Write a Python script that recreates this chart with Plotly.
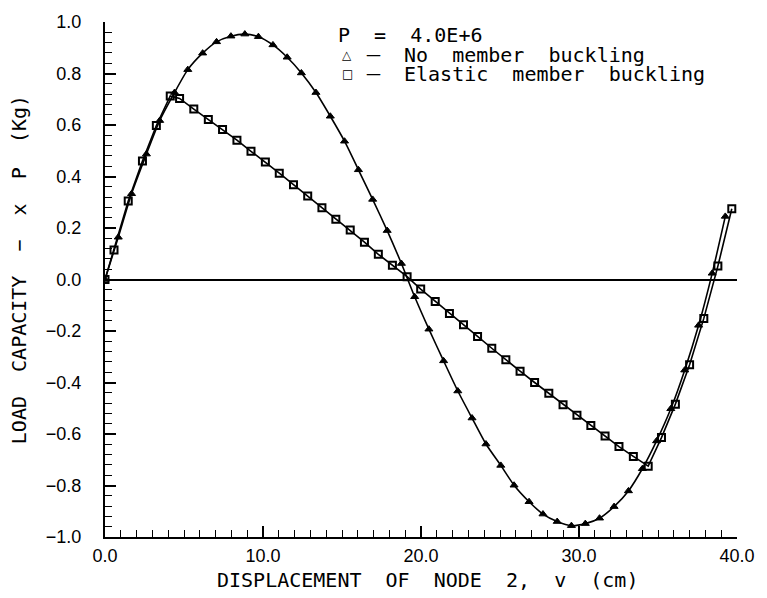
import plotly.graph_objects as go

# No member buckling (triangles)
tri_x = [0.0, 0.84, 1.68, 2.62, 3.46, 4.40, 5.24, 6.18, 7.06, 7.97, 8.85, 9.71,
         10.63, 11.53, 12.43, 13.35, 14.26, 15.16, 16.04, 16.94, 17.86, 18.76,
         19.60, 20.50, 21.43, 22.33, 23.23, 24.11, 25.05, 25.89, 26.84, 27.72,
         28.62, 29.52, 30.40, 31.30, 32.22, 33.13, 34.01, 34.91, 35.81, 36.69,
         37.57, 38.43, 39.26]
tri_y = [0.0, 0.164, 0.333, 0.487, 0.617, 0.726, 0.815, 0.879, 0.923, 0.945, 0.953, 0.943,
         0.911, 0.863, 0.802, 0.726, 0.634, 0.537, 0.426, 0.311, 0.190, 0.062,
         -0.067, -0.193, -0.316, -0.433, -0.538, -0.639, -0.722, -0.799, -0.863, -0.911,
         -0.940, -0.956, -0.948, -0.927, -0.882, -0.821, -0.735, -0.627, -0.502, -0.352,
         -0.178, 0.024, 0.245]

# Elastic member buckling (squares)
sq_x = [0.0, 0.57, 1.47, 2.37, 3.25, 4.13, 4.72, 5.62, 6.54, 7.44, 8.35, 9.24,
        10.15, 11.03, 11.93, 12.83, 13.73, 14.61, 15.52, 16.42, 17.30, 18.19,
        19.12, 19.98, 20.90, 21.80, 22.69, 23.58, 24.48, 25.37, 26.27, 27.19,
        28.09, 28.99, 29.87, 30.75, 31.65, 32.53, 33.44, 34.38, 35.22, 36.10,
        37.00, 37.90, 38.79, 39.67]
sq_y = [0.0, 0.115, 0.305, 0.460, 0.598, 0.713, 0.703, 0.662, 0.621, 0.583, 0.541, 0.498,
        0.456, 0.413, 0.368, 0.324, 0.279, 0.234, 0.192, 0.145, 0.098, 0.055,
        0.011, -0.037, -0.085, -0.132, -0.176, -0.221, -0.267, -0.312, -0.356, -0.400,
        -0.442, -0.486, -0.527, -0.567, -0.608, -0.649, -0.687, -0.725, -0.614, -0.484,
        -0.331, -0.151, 0.052, 0.275]

NB = "\u00a0"
x_title = f"DISPLACEMENT{NB} OF{NB} NODE{NB} 2,{NB} v{NB} (cm)"
y_title = f"LOAD{NB} CAPACITY{NB} \u2212{NB} x{NB} P{NB} (Kg)"
legend_head = f"P{NB} ={NB} 4.0E+6"
legend_lines = [f"No{NB} member{NB} buckling", f"Elastic{NB} member{NB} buckling"]
legend_syms = ["\u25b3", "\u25a1"]

fig = go.Figure()
fig.add_trace(go.Scatter(
    x=tri_x, y=tri_y, mode="lines+markers",
    line=dict(color="black", width=1.6, shape="spline", smoothing=0.6),
    marker=dict(symbol="triangle-up", size=7, color="black", line=dict(width=1, color="black")),
    showlegend=False))
fig.add_trace(go.Scatter(
    x=sq_x, y=sq_y, mode="lines+markers",
    line=dict(color="black", width=1.6),
    marker=dict(symbol="square-open", size=7, color="black", line=dict(width=2, color="black")),
    showlegend=False))

tick_font = dict(family="Liberation Sans, Arial, sans-serif", size=18, color="black")
mono = "DejaVu Sans Mono, monospace"
title_font = dict(family=mono, size=20, color="black")

fig.update_xaxes(
    range=[0, 40], dtick=10, tick0=0, tickformat=".1f",
    showline=True, linecolor="black", linewidth=2,
    ticks="inside", ticklen=11, tickwidth=1.6, tickcolor="black",
    minor=dict(dtick=1, ticks="inside", ticklen=7, tickwidth=1.4, tickcolor="black"),
    showgrid=False, zeroline=False, tickfont=tick_font, ticklabelstandoff=1)
fig.update_yaxes(
    range=[-1, 1], dtick=0.2, tick0=0, tickformat=".1f",
    showline=True, linecolor="black", linewidth=2,
    ticks="inside", ticklen=11, tickwidth=1.6, tickcolor="black",
    minor=dict(dtick=0.04, ticks="inside", ticklen=7, tickwidth=1.4, tickcolor="black"),
    showgrid=False, zeroline=True, zerolinecolor="black", zerolinewidth=1.5,
    tickfont=tick_font, ticklabelstandoff=18)

W, H = 767, 598
ml, mr, mt, mb = 105, 26, 15, 61
pw, ph = W - ml - mr, H - mt - mb


def px(xp):
    return (xp - ml) / pw


def py(yp):
    return 1 - (yp - mt) / ph


annotations = [
    dict(text=x_title, x=px(430), y=py(581), xref="paper", yref="paper", xanchor="center",
         yanchor="middle", showarrow=False, font=title_font),
    dict(text=y_title, x=px(18), y=py(266), xref="paper", yref="paper", xanchor="center",
         yanchor="middle", textangle=-90, showarrow=False, font=title_font),
    dict(text=legend_head, x=px(338), y=py(28), xref="paper", yref="paper",
         xanchor="left", yanchor="middle", showarrow=False, font=title_font, borderpad=0),
]
rows_y = [48, 67.5]
for sym, txt, yy in zip(legend_syms, legend_lines, rows_y):
    annotations.append(dict(text=sym, x=px(349), y=py(yy), xref="paper", yref="paper",
                            xanchor="center", yanchor="middle", showarrow=False, borderpad=0,
                            font=dict(family="DejaVu Sans, sans-serif", size=12, color="black")))
    annotations.append(dict(text="\u2014", x=px(375), y=py(yy), xref="paper", yref="paper",
                            xanchor="center", yanchor="middle", showarrow=False, borderpad=0,
                            font=dict(family="DejaVu Sans, sans-serif", size=15, color="black")))
    annotations.append(dict(text=txt, x=px(405), y=py(yy), xref="paper", yref="paper",
                            xanchor="left", yanchor="middle", showarrow=False, font=title_font,
                            borderpad=0))

fig.update_layout(
    width=W, height=H,
    margin=dict(l=ml, r=mr, t=mt, b=mb, pad=0),
    paper_bgcolor="white", plot_bgcolor="white",
    annotations=annotations,
)

fig.write_html("out.html")
